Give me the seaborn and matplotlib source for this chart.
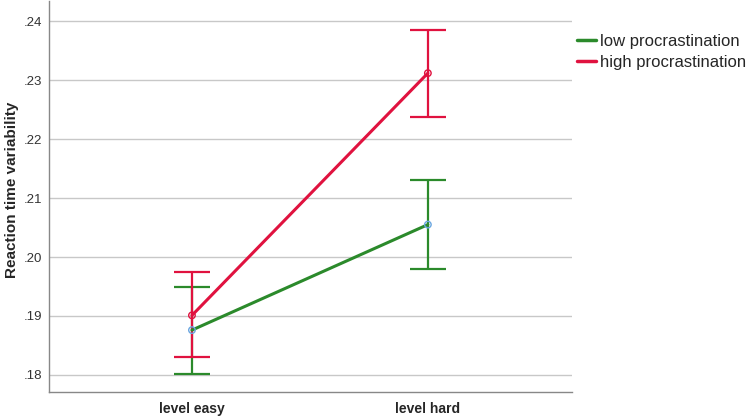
import pandas as pd
import numpy as np
import matplotlib
matplotlib.use("Agg")
import matplotlib.pyplot as plt
import seaborn as sns

# values
levels = ["level easy", "level hard"]
groups = ["low procrastination", "high procrastination"]
low_mean = [0.1876, 0.2055]
low_upper = [0.1949, 0.2131]
low_lower = [0.1802, 0.1979]
high_mean = [0.1901, 0.2312]
high_upper = [0.1974, 0.2386]
high_lower = [0.1830, 0.2237]

colors = {"low procrastination": "#2b8a2b", "high procrastination": "#e0123f"}
marker_edge = {"low procrastination": "#6aa6e0", "high procrastination": "#e0123f"}

df = pd.DataFrame({
    "level": levels * 2,
    "group": [groups[0]] * 2 + [groups[1]] * 2,
    "mean": low_mean + high_mean,
    "upper": low_upper + high_upper,
    "lower": low_lower + high_lower,
})
df["x"] = df["level"].map({lv: i for i, lv in enumerate(levels)})

sns.set_style("white")
plt.rcParams["font.family"] = ["Liberation Sans", "DejaVu Sans"]

fig = plt.figure(figsize=(7.49, 4.17), dpi=100)
ax = fig.add_axes([0.0654, 0.06, 0.698, 0.937])

# gridlines behind everything
ax.set_axisbelow(True)
ax.yaxis.grid(True, color="#c8c8c8", linewidth=1.0)

sns.lineplot(data=df, x="x", y="mean", hue="group", palette=colors,
             hue_order=groups, linewidth=2.2, ax=ax, legend=False, zorder=3)

for g in groups:
    sub = df[df["group"] == g]
    ax.errorbar(sub["x"], sub["mean"],
                yerr=[sub["mean"] - sub["lower"], sub["upper"] - sub["mean"]],
                fmt="none", ecolor=colors[g], elinewidth=1.6, capsize=13,
                capthick=1.6, zorder=2)
    ax.scatter(sub["x"], sub["mean"], s=22, facecolors="none",
               edgecolors=marker_edge[g], linewidths=1.0, zorder=4)

ax.set_xlim(-0.606, 1.61)
ax.set_ylim(0.1771, 0.2434)
ax.set_xticks([0, 1])
ax.set_xticklabels(levels, fontsize=10, fontweight="bold")
yt = [0.18, 0.19, 0.20, 0.21, 0.22, 0.23, 0.24]
ax.set_yticks(yt)
ax.set_yticklabels([f"{v:.2f}"[1:] for v in yt], fontsize=9.5, color="#333333")
ax.tick_params(axis="y", length=0, pad=5)
ax.tick_params(axis="x", length=0, pad=7)
ax.set_xlabel("")
ax.set_ylabel("Reaction time variability", fontsize=11, fontweight="bold")
ax.yaxis.set_label_coords(-0.057, 0.517)

for side in ["top", "right"]:
    ax.spines[side].set_visible(False)
for side in ["left", "bottom"]:
    ax.spines[side].set_color("#888888")
    ax.spines[side].set_linewidth(1.0)

handles = [plt.Line2D([0], [0], color=colors[g], linewidth=2.5) for g in groups]
fig.legend(handles, groups, loc="upper left", bbox_to_anchor=(0.762, 0.935),
           frameon=False, fontsize=12, handlelength=1.1, handletextpad=0.25,
           labelspacing=0.38, borderaxespad=0)

fig.savefig("out.png", dpi=100)
